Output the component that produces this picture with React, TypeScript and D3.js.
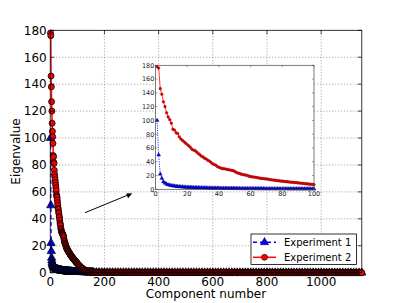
import React from "react";
import * as d3 from "d3";

// ---------- data ----------
const seriesNames = ["Experiment 1", "Experiment 2"];

// components 1..100 (shown in detail in the inset)
const headComponents = d3.range(1, 101);
const exp1Head = [
  100, 50, 22, 16, 11, 9, 7.6, 6.6, 6.0, 5.4,
  5.0, 4.7, 4.4, 4.1, 3.9, 3.7, 3.5, 3.3, 3.2, 3.0,
  2.9, 2.8, 2.7, 2.6, 2.5, 2.45, 2.4, 2.3, 2.2, 2.15,
  2.1, 2.0, 1.95, 1.9, 1.85, 1.8, 1.75, 1.7, 1.66, 1.62,
  1.58, 1.54, 1.5, 1.46, 1.43, 1.4, 1.37, 1.34, 1.31, 1.28,
  1.25, 1.22, 1.2, 1.17, 1.15, 1.12, 1.1, 1.08, 1.05, 1.03,
  1.01, 0.99, 0.97, 0.95, 0.93, 0.91, 0.9, 0.88, 0.86, 0.85,
  0.83, 0.82, 0.8, 0.79, 0.77, 0.76, 0.74, 0.73, 0.72, 0.7,
  0.69, 0.68, 0.67, 0.66, 0.65, 0.63, 0.62, 0.61, 0.6, 0.59,
  0.58, 0.57, 0.56, 0.55, 0.54, 0.54, 0.53, 0.52, 0.51, 0.5,
];
const exp2Head = [
  178, 176, 146, 138, 127, 120, 111, 105, 101, 96,
  87, 86, 82, 81, 76, 73, 71, 69, 67, 65,
  63, 61, 58, 57, 56, 54, 52, 50, 48, 47,
  45, 44, 42, 41, 39, 37, 36, 35, 33, 32,
  31, 30, 30, 29.5, 29, 28.5, 28, 27.5, 27, 26,
  24.5, 23.5, 23, 22, 21.5, 21, 20.5, 20, 19, 18.5,
  18, 17.8, 17.5, 17, 16.5, 16, 15.8, 15.5, 15.2, 15,
  14.6, 14.2, 13.8, 13.5, 13.2, 12.9, 12.6, 12.3, 12, 11.8,
  11.5, 11.2, 11, 10.7, 10.4, 10.2, 10, 9.8, 9.6, 9.3,
  9, 8.8, 8.5, 8.3, 8, 7.8, 7.5, 7.3, 7.1, 6.8,
];

// components 102..160 (every second component)
const midComponents = d3.range(102, 161, 2);
const exp1Mid = [
  0.49, 0.48, 0.47, 0.46, 0.45, 0.44, 0.43, 0.42, 0.41, 0.40,
  0.39, 0.38, 0.37, 0.36, 0.35, 0.34, 0.33, 0.32, 0.31, 0.30,
  0.29, 0.28, 0.27, 0.26, 0.25, 0.24, 0.23, 0.22, 0.21, 0.21,
];
const exp2Mid = [
  6.4, 6.0, 5.6, 5.2, 4.8, 4.4, 4.0, 3.6, 3.3, 3.0,
  2.7, 2.4, 2.1, 1.9, 1.7, 1.5, 1.3, 1.15, 1.0, 0.9,
  0.8, 0.75, 0.7, 0.65, 0.6, 0.56, 0.52, 0.48, 0.45, 0.42,
];

// tail: Experiment 1 every 10th component, Experiment 2 every 3rd
const exp1TailComponents = d3.range(170, 1151, 10);
const exp1Tail = [
  0.20, 0.19, 0.19, 0.18, 0.18, 0.17, 0.17, 0.16, 0.16, 0.15,
  0.15, 0.15, 0.14, 0.14, 0.14, 0.13, 0.13, 0.13, 0.12, 0.12,
  0.12, 0.12, 0.11, 0.11, 0.11, 0.11, 0.10, 0.10, 0.10, 0.10,
  0.09, 0.09, 0.09, 0.09, 0.09, 0.08, 0.08, 0.08, 0.08, 0.08,
  0.07, 0.07, 0.07, 0.07, 0.07, 0.07, 0.06, 0.06, 0.06, 0.06,
  0.06, 0.06, 0.05, 0.05, 0.05, 0.05, 0.05, 0.05, 0.05, 0.04,
  0.04, 0.04, 0.04, 0.04, 0.04, 0.04, 0.03, 0.03, 0.03, 0.03,
  0.03, 0.03, 0.03, 0.03, 0.02, 0.02, 0.02, 0.02, 0.02, 0.02,
  0.02, 0.02, 0.02, 0.01, 0.01, 0.01, 0.01, 0.01, 0.01, 0.01,
  0.01, 0.01, 0.01, 0.01, 0.01, 0.0, 0.0, 0.0, 0.0,
];
const exp2TailComponents = d3.range(163, 1151, 3);
const exp2Tail = [
  0.40, 0.39, 0.39, 0.38, 0.38, 0.37, 0.37, 0.36, 0.36, 0.35,
  0.35, 0.34, 0.34, 0.34, 0.33, 0.33, 0.32, 0.32, 0.32, 0.31,
  0.31, 0.31, 0.30, 0.30, 0.30, 0.29, 0.29, 0.29, 0.28, 0.28,
  0.28, 0.27, 0.27, 0.27, 0.27, 0.26, 0.26, 0.26, 0.25, 0.25,
  0.25, 0.25, 0.24, 0.24, 0.24, 0.24, 0.23, 0.23, 0.23, 0.23,
  0.22, 0.22, 0.22, 0.22, 0.21, 0.21, 0.21, 0.21, 0.21, 0.20,
  0.20, 0.20, 0.20, 0.19, 0.19, 0.19, 0.19, 0.19, 0.18, 0.18,
  0.18, 0.18, 0.18, 0.17, 0.17, 0.17, 0.17, 0.17, 0.17, 0.16,
  0.16, 0.16, 0.16, 0.16, 0.16, 0.15, 0.15, 0.15, 0.15, 0.15,
  0.15, 0.14, 0.14, 0.14, 0.14, 0.14, 0.14, 0.14, 0.13, 0.13,
  0.13, 0.13, 0.13, 0.13, 0.13, 0.12, 0.12, 0.12, 0.12, 0.12,
  0.12, 0.12, 0.12, 0.11, 0.11, 0.11, 0.11, 0.11, 0.11, 0.11,
  0.11, 0.10, 0.10, 0.10, 0.10, 0.10, 0.10, 0.10, 0.10, 0.10,
  0.09, 0.09, 0.09, 0.09, 0.09, 0.09, 0.09, 0.09, 0.09, 0.08,
  0.08, 0.08, 0.08, 0.08, 0.08, 0.08, 0.08, 0.08, 0.08, 0.08,
  0.07, 0.07, 0.07, 0.07, 0.07, 0.07, 0.07, 0.07, 0.07, 0.07,
  0.07, 0.06, 0.06, 0.06, 0.06, 0.06, 0.06, 0.06, 0.06, 0.06,
  0.06, 0.06, 0.06, 0.05, 0.05, 0.05, 0.05, 0.05, 0.05, 0.05,
  0.05, 0.05, 0.05, 0.05, 0.05, 0.05, 0.04, 0.04, 0.04, 0.04,
  0.04, 0.04, 0.04, 0.04, 0.04, 0.04, 0.04, 0.04, 0.04, 0.04,
  0.04, 0.03, 0.03, 0.03, 0.03, 0.03, 0.03, 0.03, 0.03, 0.03,
  0.03, 0.03, 0.03, 0.03, 0.03, 0.03, 0.03, 0.03, 0.03, 0.03,
  0.03, 0.02, 0.02, 0.02, 0.02, 0.02, 0.02, 0.02, 0.02, 0.02,
  0.02, 0.02, 0.02, 0.02, 0.02, 0.02, 0.02, 0.02, 0.02, 0.02,
  0.02, 0.02, 0.02, 0.02, 0.02, 0.02, 0.02, 0.01, 0.01, 0.01,
  0.01, 0.01, 0.01, 0.01, 0.01, 0.01, 0.01, 0.01, 0.01, 0.01,
  0.01, 0.01, 0.01, 0.01, 0.01, 0.01, 0.01, 0.01, 0.01, 0.01,
  0.01, 0.01, 0.01, 0.01, 0.01, 0.01, 0.01, 0.01, 0.01, 0.01,
  0.01, 0.01, 0.01, 0.01, 0.01, 0.01, 0.01, 0.01, 0.01, 0.01,
  0.01, 0.01, 0.01, 0.01, 0.01, 0.01, 0.01, 0.01, 0.01, 0.01,
  0.01, 0.01, 0.01, 0.01, 0.01, 0.01, 0.01, 0.00, 0.00, 0.00,
  0.00, 0.00, 0.00, 0.00, 0.00, 0.00, 0.00, 0.00, 0.00, 0.00,
  0.00, 0.00, 0.00, 0.00, 0.00, 0.00, 0.00, 0.00, 0.00, 0.00,
];

const mainXTicks = [0, 200, 400, 600, 800, 1000];
const yTicks = [0, 20, 40, 60, 80, 100, 120, 140, 160, 180];
const insetXTicks = [0, 20, 40, 60, 80, 100];

// ---------- helpers ----------
type Pt = [number, number];
const zip = (xs: number[], ys: number[]): Pt[] => xs.map((x, i) => [x, ys[i]]);

const exp1All: Pt[] = [
  ...zip(headComponents, exp1Head),
  ...zip(midComponents, exp1Mid),
  ...zip(exp1TailComponents, exp1Tail),
];
const exp2All: Pt[] = [
  ...zip(headComponents, exp2Head),
  ...zip(midComponents, exp2Mid),
  ...zip(exp2TailComponents, exp2Tail),
];
const exp1Inset: Pt[] = zip(headComponents, exp1Head);
const exp2Inset: Pt[] = zip(headComponents, exp2Head);

const FONT = "'DejaVu Sans', Verdana, sans-serif";
const W = 402;
const H = 303;

export default function App() {
  // main axes
  const L = 50.25, R = 361.8, T = 30.3, B = 272.7;
  const x = d3.scaleLinear().domain([0, 1150]).range([L, R]);
  const y = d3.scaleLinear().domain([0, 180]).range([B, T]);

  // inset axes
  const iL = 155.5, iR = 314, iT = 65.3, iB = 189.3;
  const ix = d3.scaleLinear().domain([0, 100]).range([iL, iR]);
  const iy = d3.scaleLinear().domain([0, 180]).range([iB, iT]);

  const lineMain = d3.line<Pt>().x((d) => x(d[0])).y((d) => y(d[1]));
  const lineInset = d3.line<Pt>().x((d) => ix(d[0])).y((d) => iy(d[1]));

  const triMain = d3.symbol().type(d3.symbolTriangle).size(30)() as string;
  const triInset = d3.symbol().type(d3.symbolTriangle).size(7)() as string;

  return (
    <div style={{ position: "fixed", left: 0, top: 0, width: W, height: H, background: "#fff" }}>
      <svg width={W} height={H} viewBox={`0 0 ${W} ${H}`} style={{ display: "block", fontFamily: FONT }}>
        <defs>
          <clipPath id="mainClip">
            <rect x={L} y={T} width={R - L} height={B - T} />
          </clipPath>
          <clipPath id="insetClip">
            <rect x={iL} y={iT} width={iR - iL} height={iB - iT} />
          </clipPath>
        </defs>
        <rect x={0} y={0} width={W} height={H} fill="#fff" />

        {/* grid */}
        <g stroke="#555" strokeWidth={0.6} strokeDasharray="1,2">
          {mainXTicks.slice(1).map((t) => (
            <line key={"gx" + t} x1={x(t)} x2={x(t)} y1={T} y2={B} />
          ))}
          {yTicks.slice(1, -1).map((t) => (
            <line key={"gy" + t} x1={L} x2={R} y1={y(t)} y2={y(t)} />
          ))}
        </g>

        {/* Experiment 1 */}
        <path d={lineMain(exp1All) || ""} fill="none" stroke="#0000ff" strokeWidth={1.5}
          strokeDasharray="4,3" clipPath="url(#mainClip)" />
        <g fill="#0000ff" stroke="#000" strokeWidth={0.7}>
          {exp1All.map((d, i) => (
            <path key={"m1" + i} d={triMain} transform={`translate(${x(d[0])},${y(d[1])})`} />
          ))}
        </g>

        {/* Experiment 2 */}
        <path d={lineMain(exp2All) || ""} fill="none" stroke="#ff0000" strokeWidth={1.5}
          clipPath="url(#mainClip)" />
        <g fill="#ff0000" stroke="#000" strokeWidth={0.8}>
          {exp2All.map((d, i) => (
            <circle key={"m2" + i} cx={x(d[0])} cy={y(d[1])} r={3} />
          ))}
        </g>

        {/* frame and ticks */}
        <rect x={L} y={T} width={R - L} height={B - T} fill="none" stroke="#000" strokeWidth={0.8} />
        <g stroke="#000" strokeWidth={0.7}>
          {mainXTicks.map((t) => (
            <g key={"tx" + t}>
              <line x1={x(t)} x2={x(t)} y1={B} y2={B - 4} />
              <line x1={x(t)} x2={x(t)} y1={T} y2={T + 4} />
            </g>
          ))}
          {yTicks.map((t) => (
            <g key={"ty" + t}>
              <line x1={L} x2={L + 4} y1={y(t)} y2={y(t)} />
              <line x1={R} x2={R - 4} y1={y(t)} y2={y(t)} />
            </g>
          ))}
        </g>
        <g fontSize={12} fill="#000">
          {mainXTicks.map((t) => (
            <text key={"lx" + t} x={x(t)} y={285.5} textAnchor="middle">{t}</text>
          ))}
          {yTicks.map((t) => (
            <text key={"ly" + t} x={L - 3.5} y={y(t)} dy="0.36em" textAnchor="end">{t}</text>
          ))}
        </g>
        <text x={(L + R) / 2} y={298} fontSize={12} textAnchor="middle">Component number</text>
        <text transform={`translate(20,${(T + B) / 2}) rotate(-90)`} fontSize={12} textAnchor="middle">Eigenvalue</text>

        {/* arrow */}
        <line x1={85} y1={212.7} x2={128} y2={195} stroke="#000" strokeWidth={1} />
        <path d="M132.3,193.3 L126.2,193.6 L128.1,198.2 Z" fill="#000" />

        {/* inset */}
        <rect x={iL} y={iT} width={iR - iL} height={iB - iT} fill="#fff" />
        <path d={lineInset(exp1Inset) || ""} fill="none" stroke="#0000ff" strokeWidth={0.8}
          strokeDasharray="1.2,1.2" clipPath="url(#insetClip)" />
        <g fill="#0000ff" stroke="#000033" strokeWidth={0.3}>
          {exp1Inset.map((d, i) => (
            <path key={"i1" + i} d={triInset} transform={`translate(${ix(d[0])},${iy(d[1])})`} />
          ))}
        </g>
        <path d={lineInset(exp2Inset) || ""} fill="none" stroke="#ff0000" strokeWidth={0.8}
          clipPath="url(#insetClip)" />
        <g fill="#ee0000" stroke="#660000" strokeWidth={0.35}>
          {exp2Inset.map((d, i) => (
            <circle key={"i2" + i} cx={ix(d[0])} cy={iy(d[1])} r={1.35} />
          ))}
        </g>
        <rect x={iL} y={iT} width={iR - iL} height={iB - iT} fill="none" stroke="#444" strokeWidth={0.7} />
        <g stroke="#444" strokeWidth={0.5}>
          {insetXTicks.map((t) => (
            <g key={"itx" + t}>
              <line x1={ix(t)} x2={ix(t)} y1={iB} y2={iB - 2} />
              <line x1={ix(t)} x2={ix(t)} y1={iT} y2={iT + 2} />
            </g>
          ))}
          {yTicks.map((t) => (
            <g key={"ity" + t}>
              <line x1={iL} x2={iL + 2} y1={iy(t)} y2={iy(t)} />
              <line x1={iR} x2={iR - 2} y1={iy(t)} y2={iy(t)} />
            </g>
          ))}
        </g>
        <g fontSize={6.5} fill="#222">
          {insetXTicks.map((t) => (
            <text key={"ilx" + t} x={ix(t)} y={196} textAnchor="middle">{t}</text>
          ))}
          {yTicks.map((t) => (
            <text key={"ily" + t} x={iL - 1.2} y={iy(t)} dy="0.36em" textAnchor="end">{t}</text>
          ))}
        </g>

        {/* legend */}
        <rect x={251} y={234} width={105.5} height={30.5} fill="#fff" stroke="#000" strokeWidth={0.8} />
        <g>
          <line x1={253} x2={276} y1={242.3} y2={242.3} stroke="#0000ff" strokeWidth={1.5} strokeDasharray="4,3" />
          <path d={triMain} transform="translate(264.5,242.3)" fill="#0000ff" stroke="#000" strokeWidth={0.5} />
          <text x={284} y={245.8} fontSize={10}>{seriesNames[0]}</text>
          <line x1={253} x2={276} y1={257.3} y2={257.3} stroke="#ff0000" strokeWidth={1.5} />
          <circle cx={264.5} cy={257.3} r={3} fill="#ff0000" stroke="#000" strokeWidth={0.6} />
          <text x={284} y={260.8} fontSize={10}>{seriesNames[1]}</text>
        </g>
      </svg>
    </div>
  );
}
